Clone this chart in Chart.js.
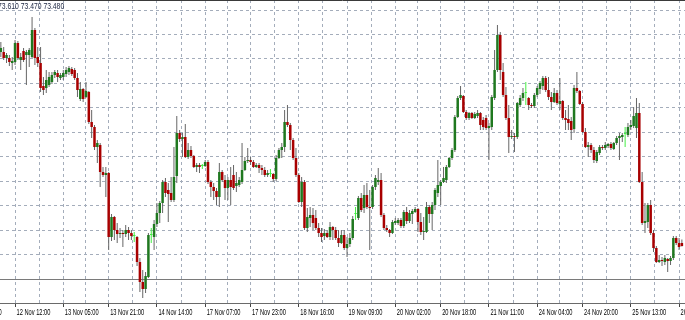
<!DOCTYPE html>
<html>
<head>
<meta charset="utf-8">
<script src="https://cdn.jsdelivr.net/npm/chart.js@4.4.1/dist/chart.umd.min.js"></script>
<style>
  html, body { margin: 0; padding: 0; background: #fff; }
  #c { display: block; }
</style>
</head>
<body>
<canvas id="c" width="685" height="320"></canvas>
<script>
// H1 candles, oldest first
const opens = [
  77.36, 77.36, 77.24, 77.24, 77.14, 77.16, 77.54, 77.20, 77.38, 77.30,
  77.30, 77.26, 77.80, 77.26, 77.14, 76.68, 76.64, 76.70, 76.76, 76.90,
  76.94, 76.84, 76.86, 76.92, 76.96, 77.02, 77.00, 76.84, 76.42, 76.62,
  76.46, 76.56, 75.96, 75.86, 75.46, 75.50, 74.96, 74.90, 74.94, 73.66,
  74.06, 73.80, 73.72, 73.74, 73.72, 73.80, 73.74, 73.68, 73.66, 73.16,
  72.76, 72.62, 72.86, 73.70, 73.66, 73.92, 74.14, 74.34, 74.76, 74.60,
  74.54, 74.40, 74.88, 75.74, 75.62, 75.66, 75.26, 75.40, 75.28, 75.06,
  75.10, 75.08, 75.08, 75.16, 74.76, 74.66, 74.58, 74.46, 74.96, 74.80,
  74.64, 74.80, 74.90, 74.68, 74.70, 74.76, 75.00, 75.18, 75.20, 75.16,
  75.06, 75.10, 75.04, 75.00, 74.90, 74.92, 74.92, 74.82, 75.24, 75.40,
  75.46, 75.96, 75.90, 75.60, 75.24, 74.90, 74.36, 74.76, 73.84, 74.04,
  74.10, 74.04, 73.84, 73.74, 73.68, 73.74, 73.66, 73.86, 73.80, 73.64,
  73.54, 73.70, 73.44, 73.52, 73.64, 74.12, 74.04, 74.44, 74.24, 74.50,
  74.26, 74.26, 74.66, 74.76, 74.80, 74.10, 73.84, 73.80, 73.74, 73.94,
  73.94, 74.00, 73.88, 74.16, 73.98, 74.12, 74.16, 74.22, 73.96, 73.76,
  73.76, 74.26, 74.12, 74.30, 74.54, 74.68, 74.76, 74.80, 75.06, 75.24,
  75.40, 76.06, 76.44, 76.48, 76.16, 76.04, 76.14, 76.04, 76.08, 76.14,
  76.00, 76.04, 75.84, 75.86, 76.44, 77.00, 77.70, 76.96, 76.50, 76.04,
  75.66, 75.68, 75.66, 76.30, 76.44, 76.54, 76.44, 76.30, 76.28, 76.50,
  76.62, 76.68, 76.84, 76.60, 76.46, 76.36, 76.54, 76.32, 76.38, 76.04,
  76.02, 75.98, 75.82, 76.64, 76.58, 76.32, 75.76, 75.46, 75.50, 75.40,
  75.18, 75.34, 75.46, 75.44, 75.48, 75.52, 75.42, 75.54, 75.64, 75.66,
  75.72, 75.70, 75.86, 75.88, 75.84, 76.14, 74.76, 73.94, 73.96, 74.30,
  73.74, 73.44, 73.16, 73.20, 73.16, 73.22, 73.18, 73.24, 73.64, 73.54, 73.54
];
const highs = [
  77.56, 77.46, 77.34, 77.30, 77.26, 77.60, 77.58, 77.34, 77.44, 77.40,
  77.44, 78.06, 77.84, 77.46, 77.46, 76.86, 77.00, 76.96, 76.96, 77.00,
  77.00, 76.94, 77.00, 77.06, 77.08, 77.06, 77.04, 76.94, 76.76, 76.64,
  76.76, 76.58, 76.20, 75.90, 75.60, 75.54, 75.06, 75.06, 74.96, 74.12,
  74.08, 73.94, 73.84, 73.80, 73.90, 73.86, 73.80, 73.76, 73.68, 73.24,
  73.00, 72.96, 73.74, 73.84, 74.00, 74.34, 74.38, 74.80, 74.84, 74.74,
  74.86, 75.46, 76.08, 75.80, 75.74, 75.92, 75.54, 75.48, 75.30, 75.14,
  75.14, 75.12, 75.20, 75.20, 74.80, 74.74, 74.64, 75.14, 75.00, 74.90,
  74.86, 75.06, 75.10, 74.96, 74.86, 75.54, 75.26, 75.44, 75.26, 75.20,
  75.14, 75.14, 75.10, 75.06, 75.00, 75.02, 74.94, 75.30, 75.44, 75.54,
  76.20, 76.30, 75.94, 75.64, 75.44, 74.94, 74.86, 74.80, 74.24, 74.26,
  74.24, 74.20, 73.94, 73.84, 73.82, 73.80, 73.96, 73.88, 73.86, 73.80,
  73.80, 73.80, 73.66, 73.74, 74.08, 74.26, 74.48, 74.54, 74.70, 74.74,
  74.60, 74.70, 74.90, 75.04, 74.94, 74.14, 73.90, 73.82, 74.00, 74.04,
  74.04, 74.04, 74.20, 74.26, 74.20, 74.22, 74.26, 74.24, 74.14, 74.06,
  74.36, 74.30, 74.36, 74.64, 75.20, 74.80, 75.06, 75.10, 75.26, 75.44,
  76.10, 76.48, 76.68, 76.50, 76.20, 76.16, 76.16, 76.16, 76.20, 76.16,
  76.06, 76.10, 75.94, 76.50, 77.40, 77.90, 77.76, 77.14, 76.66, 76.30,
  75.80, 75.74, 76.36, 76.50, 76.64, 76.76, 76.46, 76.34, 76.54, 76.68,
  76.78, 76.88, 76.88, 76.86, 76.56, 76.64, 76.60, 76.84, 76.40, 76.20,
  76.30, 76.06, 76.70, 76.96, 76.60, 76.36, 75.84, 75.56, 75.54, 75.46,
  75.40, 75.50, 75.50, 75.56, 75.54, 75.56, 75.56, 75.68, 75.74, 75.74,
  75.86, 75.94, 76.00, 76.26, 76.44, 76.34, 74.96, 74.34, 74.34, 74.40,
  73.80, 73.48, 73.30, 73.26, 73.30, 73.24, 73.28, 73.68, 73.68, 73.64, 73.61
];
const lows = [
  77.26, 77.20, 77.14, 77.08, 77.00, 77.10, 77.20, 77.00, 77.16, 76.70,
  77.06, 77.24, 77.10, 77.06, 76.56, 76.50, 76.54, 76.66, 76.72, 76.84,
  76.76, 76.80, 76.80, 76.86, 76.90, 76.88, 76.80, 76.46, 76.38, 76.36,
  76.44, 75.92, 75.64, 75.40, 75.14, 74.66, 74.86, 74.46, 73.40, 73.58,
  73.60, 73.54, 73.64, 73.46, 73.66, 73.60, 73.60, 73.56, 73.08, 72.56,
  72.44, 72.54, 72.84, 73.54, 73.40, 73.86, 73.94, 74.14, 74.46, 73.96,
  74.36, 74.36, 74.74, 75.56, 75.26, 75.24, 75.22, 75.24, 75.04, 74.96,
  74.94, 75.02, 75.06, 74.72, 74.46, 74.40, 74.30, 74.26, 74.76, 74.40,
  74.40, 74.30, 74.60, 74.56, 74.66, 74.72, 74.98, 75.14, 75.10, 75.04,
  75.04, 74.94, 74.90, 74.86, 74.86, 74.86, 74.76, 74.78, 75.22, 75.24,
  75.36, 75.86, 75.40, 75.20, 74.86, 74.34, 74.26, 73.80, 73.76, 73.86,
  73.80, 73.80, 73.66, 73.56, 73.60, 73.64, 73.60, 73.60, 73.60, 73.46,
  73.52, 73.40, 73.26, 73.46, 73.60, 74.00, 74.00, 74.16, 74.14, 74.22,
  73.40, 74.22, 74.60, 74.70, 74.06, 73.80, 73.76, 73.66, 73.72, 73.90,
  73.90, 73.84, 73.84, 73.92, 73.94, 73.92, 74.14, 73.76, 73.70, 73.60,
  73.74, 73.94, 73.80, 74.20, 74.46, 74.30, 74.74, 74.74, 75.04, 75.20,
  75.36, 76.04, 76.40, 76.14, 76.00, 76.00, 76.02, 76.02, 76.04, 75.80,
  75.80, 75.80, 75.20, 75.80, 76.40, 76.96, 76.80, 76.46, 76.00, 75.34,
  75.62, 75.36, 75.62, 76.26, 76.38, 76.30, 76.20, 76.24, 76.24, 76.46,
  76.52, 76.60, 76.56, 76.40, 76.20, 76.34, 76.30, 76.20, 76.00, 75.80,
  75.80, 75.60, 75.74, 76.54, 76.30, 75.74, 75.44, 75.26, 75.34, 75.14,
  75.14, 75.30, 75.40, 75.40, 75.44, 75.40, 75.40, 75.50, 75.20, 75.56,
  75.46, 75.66, 75.80, 75.84, 75.64, 74.74, 73.90, 73.74, 73.84, 73.70,
  73.36, 73.14, 73.14, 73.08, 73.10, 72.96, 73.10, 73.20, 73.50, 73.40, 73.47
];
const closes = [
  77.44, 77.24, 77.30, 77.16, 77.18, 77.54, 77.24, 77.26, 77.20, 77.36,
  77.40, 77.80, 77.24, 77.14, 76.64, 76.60, 76.80, 76.86, 76.90, 76.96,
  76.86, 76.90, 76.94, 77.00, 77.04, 76.92, 76.84, 76.60, 76.62, 76.42,
  76.58, 75.96, 75.86, 75.46, 75.54, 74.96, 74.90, 74.94, 73.66, 74.06,
  73.80, 73.72, 73.74, 73.72, 73.80, 73.74, 73.68, 73.68, 73.16, 72.76,
  72.62, 72.88, 73.70, 73.70, 73.92, 74.14, 74.34, 74.76, 74.54, 74.52,
  74.40, 74.86, 75.74, 75.62, 75.66, 75.26, 75.40, 75.28, 75.06, 75.10,
  75.06, 75.08, 75.16, 74.76, 74.66, 74.58, 74.46, 74.96, 74.80, 74.64,
  74.80, 74.66, 74.64, 74.74, 74.80, 75.00, 75.18, 75.20, 75.16, 75.06,
  75.10, 75.04, 75.00, 74.90, 74.94, 74.92, 74.82, 75.24, 75.40, 75.46,
  75.96, 75.90, 75.60, 75.24, 74.90, 74.36, 74.76, 73.84, 74.06, 74.10,
  73.94, 73.84, 73.74, 73.66, 73.74, 73.66, 73.86, 73.80, 73.64, 73.54,
  73.70, 73.44, 73.52, 73.64, 74.02, 74.12, 74.44, 74.20, 74.50, 74.26,
  74.24, 74.66, 74.84, 74.80, 74.10, 73.84, 73.80, 73.74, 73.96, 73.98,
  74.00, 73.88, 74.16, 73.98, 74.14, 74.18, 74.22, 73.96, 73.76, 73.78,
  74.26, 74.12, 74.30, 74.60, 74.70, 74.76, 74.84, 75.06, 75.24, 75.40,
  76.06, 76.44, 76.50, 76.16, 76.04, 76.14, 76.04, 76.12, 76.14, 75.90,
  75.86, 75.84, 75.88, 76.46, 77.00, 77.70, 77.00, 76.50, 76.04, 75.66,
  75.68, 75.66, 76.34, 76.44, 76.54, 76.54, 76.30, 76.28, 76.50, 76.64,
  76.74, 76.84, 76.60, 76.46, 76.36, 76.54, 76.34, 76.38, 76.04, 76.00,
  75.94, 75.80, 76.64, 76.58, 76.32, 75.76, 75.46, 75.50, 75.40, 75.20,
  75.36, 75.46, 75.44, 75.50, 75.52, 75.44, 75.54, 75.64, 75.68, 75.70,
  75.72, 75.86, 75.90, 76.08, 76.14, 74.76, 73.94, 73.98, 74.30, 73.74,
  73.44, 73.16, 73.20, 73.18, 73.24, 73.18, 73.24, 73.64, 73.54, 73.46, 73.48
];

// time scale labels and the bar each one sits on
const tickBars = [-12, 5, 22, 38, 55, 72, 88, 105, 122, 139, 155, 172, 189, 205, 222, 239];
const tickLabels = [
  '11 Nov 19:00', '12 Nov 12:00', '13 Nov 05:00', '13 Nov 21:00', '14 Nov 14:00',
  '17 Nov 07:00', '17 Nov 23:00', '18 Nov 16:00', '19 Nov 09:00', '20 Nov 02:00',
  '20 Nov 18:00', '21 Nov 11:00', '24 Nov 04:00', '24 Nov 20:00', '25 Nov 13:00',
  '26 Nov 06:00'
];
const headerValues = ['73.540', '73.610', '73.470', '73.480'];
const levelPrice = 72.81;

const X_MIN = -0.3, X_MAX = 241.1;
const Y_MIN = 72.34, Y_MAX = 78.40;
const GRID_TOP = 78.20, GRID_STEP = 0.4896;

const BULL = '#1f781f', BEAR = '#a80000', DOJI = '#44ee44', WICK = '#666666';
const GRID = '#a4adbb';

const bodyData = opens.map((o, i) => ({ x: i, y: [Math.min(o, closes[i]), Math.max(o, closes[i])] }));
const wickData = lows.map((l, i) => ({ x: i, y: [l, highs[i]] }));
const bodyColors = opens.map((o, i) => closes[i] > o ? BULL : closes[i] < o ? BEAR : DOJI);
const wickColors = opens.map((o, i) => closes[i] === o ? DOJI : WICK);

const gridPrices = [];
for (let p = GRID_TOP; p > Y_MIN; p -= GRID_STEP) gridPrices.push(p);

const timeTicks = [];
tickBars.forEach((b, k) => {
  timeTicks.push(b);
  if (k < tickBars.length - 1) timeTicks.push((b + tickBars[k + 1]) / 2);
});

// squeezed text, like the terminal screenshot
function squeezedText(ctx, text, x, y, sx) {
  ctx.save();
  ctx.translate(x, y);
  ctx.scale(sx, 1);
  ctx.fillText(text, 0, 0);
  ctx.restore();
}

const mtText = {
  id: 'mtText',
  afterDraw(chart) {
    const { ctx, chartArea, scales: { x } } = chart;
    ctx.save();
    ctx.textBaseline = 'alphabetic';
    ctx.textAlign = 'left';
    ctx.fillStyle = '#000';
    ctx.font = '8.5px "Liberation Sans", Arial, sans-serif';
    tickBars.forEach((b, k) => {
      squeezedText(ctx, tickLabels[k], x.getPixelForValue(b) + 1.5, chartArea.bottom + 12, 0.67);
    });

    ctx.fillStyle = '#1c2540';
    ctx.font = '8.5px "Liberation Sans", Arial, sans-serif';
    const sx = 0.8;
    const lead = ctx.measureText(headerValues[0] + ' ').width * sx;
    squeezedText(ctx, headerValues.join(' '), -2 - lead, 8.5, sx);

    ctx.strokeStyle = '#3a3a3a';
    ctx.lineWidth = 1;
    ctx.beginPath();
    ctx.moveTo(0, 0.5);
    ctx.lineTo(chart.width, 0.5);
    ctx.stroke();
    ctx.restore();
  }
};

new Chart(document.getElementById('c'), {
  type: 'bar',
  data: {
    datasets: [
      { data: bodyData, backgroundColor: bodyColors, barThickness: 2.5, minBarLength: 1,
        grouped: false, inflateAmount: 0, borderWidth: 0 },
      { data: wickData, backgroundColor: wickColors, barThickness: 1,
        grouped: false, inflateAmount: 0, borderWidth: 0 },
      { type: 'line', data: [{ x: X_MIN, y: levelPrice }, { x: X_MAX, y: levelPrice }],
        borderColor: '#7a7a7a', borderWidth: 1, pointRadius: 0 }
    ]
  },
  options: {
    responsive: false,
    animation: false,
    layout: { padding: { left: 0, right: 0, top: 0, bottom: 13 }, autoPadding: false },
    plugins: { legend: { display: false }, tooltip: { enabled: false } },
    scales: {
      x: {
        type: 'linear', min: X_MIN, max: X_MAX, offset: false,
        afterBuildTicks: s => { s.ticks = timeTicks.map(v => ({ value: v })); },
        ticks: { display: false },
        grid: {
          offset: false, color: GRID, lineWidth: 1, tickLength: 4,
          tickColor: c => tickBars.includes(c.tick && c.tick.value) ? '#444' : 'rgba(0,0,0,0)'
        },
        border: { display: true, color: '#6a6a6a', dash: [3, 3] }
      },
      y: {
        min: Y_MIN, max: Y_MAX,
        afterBuildTicks: s => { s.ticks = gridPrices.map(v => ({ value: v })); },
        ticks: { display: false },
        grid: { color: GRID, lineWidth: 1, drawTicks: false },
        border: { display: false, dash: [3, 3] }
      }
    }
  },
  plugins: [mtText]
});
</script>
</body>
</html>
